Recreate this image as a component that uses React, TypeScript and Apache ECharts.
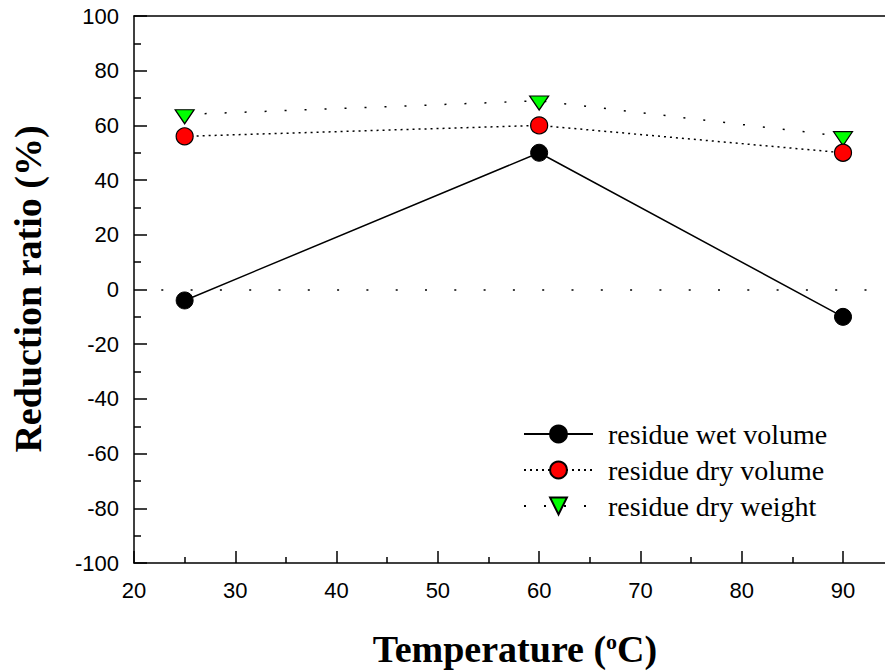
import React, { useEffect, useRef } from "react";
import * as echarts from "echarts";

const temperatures = [25, 60, 90];
const wetVolume = [-4, 50, -10];
const dryVolume = [56, 60, 50];
const dryWeight = [64, 69, 56];
const seriesNames = ["residue wet volume", "residue dry volume", "residue dry weight"];
const xTitle = "Temperature (";
const yTitle = "Reduction ratio (%)";

const SANS = "Arial, 'Liberation Sans', sans-serif";
const SERIF = "'Times New Roman', 'Liberation Serif', serif";

function pairs(values: number[]) {
  return temperatures.map((t, i) => [t, values[i]]);
}

export default function App() {
  const ref = useRef<HTMLDivElement>(null);
  useEffect(() => {
    if (!ref.current) return;
    const chart = echarts.init(ref.current, null, { renderer: "svg" });
    const axisLineStyle = { color: "#000", width: 1.5 };
    const option: any = {
      animation: false,
      backgroundColor: "#ffffff",
      grid: { left: 134, top: 16, bottom: 108, right: -59.3, containLabel: false, outerBoundsMode: "none" },
      xAxis: [
        {
          type: "value",
          min: 20,
          max: 100,
          interval: 10,
          axisLine: { show: true, onZero: false, lineStyle: axisLineStyle },
          axisTick: { show: true, inside: true, length: 12, lineStyle: axisLineStyle },
          minorTick: { show: true, splitNumber: 2, length: 6, lineStyle: axisLineStyle },
          splitLine: { show: false },
          minorSplitLine: { show: false },
          axisLabel: {
            fontFamily: SANS,
            fontSize: 22,
            color: "#000",
            margin: 16,
            showMaxLabel: false,
            formatter: (v: number) => (v > 90 ? "" : String(v)),
          },
        },
        {
          type: "value",
          position: "top",
          min: 20,
          max: 100,
          interval: 10,
          axisLine: { show: true, onZero: false, lineStyle: axisLineStyle },
          axisTick: { show: false },
          axisLabel: { show: false },
          splitLine: { show: false },
        },
      ],
      yAxis: {
        type: "value",
        min: -100,
        max: 100,
        interval: 20,
        axisLine: { show: true, onZero: false, lineStyle: axisLineStyle },
        axisTick: { show: true, inside: true, length: 13, lineStyle: axisLineStyle },
        minorTick: { show: true, splitNumber: 2, length: 7, lineStyle: axisLineStyle },
        splitLine: { show: false },
        minorSplitLine: { show: false },
        axisLabel: { fontFamily: SANS, fontSize: 22, color: "#000", margin: 15 },
      },
      legend: {
        orient: "vertical",
        left: 523,
        top: 420,
        padding: 0,
        itemWidth: 69,
        itemHeight: 21,
        itemGap: 8,
        selectedMode: false,
        data: seriesNames,
        textStyle: { fontFamily: SERIF, fontSize: 28, color: "#000", padding: [0, 0, 0, 10] },
      },
      graphic: [
        {
          type: "text",
          x: 515,
          y: 649,
          style: {
            text: "{a|" + xTitle + "}{b|o}{a|C)}",
            textAlign: "center",
            textVerticalAlign: "middle",
            rich: {
              a: { fontFamily: SERIF, fontSize: 38, fontWeight: "bold", fill: "#000", color: "#000" },
              b: { fontFamily: SERIF, fontSize: 22, fontWeight: "bold", fill: "#000", color: "#000", verticalAlign: "top" },
            },
          },
        },
        {
          type: "text",
          x: 28,
          y: 289,
          rotation: Math.PI / 2,
          style: {
            text: yTitle,
            font: "bold 38px " + SERIF,
            fill: "#000",
            textAlign: "center",
            textVerticalAlign: "middle",
          },
        },
      ],
      series: [
        {
          name: seriesNames[0],
          type: "line",
          data: pairs(wetVolume),
          symbol: "circle",
          symbolSize: 17,
          itemStyle: { color: "#000", borderColor: "#000", borderWidth: 1 },
          lineStyle: { color: "#000", width: 1.5, type: "solid" },
          z: 4,
          markLine: {
            silent: true,
            symbol: ["none", "none"],
            label: { show: false },
            lineStyle: { color: "#000", width: 1.5, type: [2, 27.3], dashOffset: 2 },
            data: [{ yAxis: 0 }],
          },
        },
        {
          name: seriesNames[1],
          type: "line",
          data: pairs(dryVolume),
          symbol: "circle",
          symbolSize: 17,
          itemStyle: { color: "#ff0000", borderColor: "#000", borderWidth: 1.2 },
          lineStyle: { color: "#000", width: 1.5, type: [2, 4] },
          z: 3,
        },
        {
          name: seriesNames[2],
          type: "line",
          data: pairs(dryWeight),
          symbol: "triangle",
          symbolSize: [19, 14],
          symbolRotate: 180,
          symbolOffset: [0, 2.3],
          itemStyle: { color: "#00ff00", borderColor: "#000", borderWidth: 1.2 },
          lineStyle: { color: "#000", width: 1.5, type: [2, 18] },
          z: 2,
        },
      ],
    };
    chart.setOption(option);
    return () => chart.dispose();
  }, []);
  return (
    <div
      ref={ref}
      style={{ position: "fixed", left: 0, top: 0, width: 885, height: 671, background: "#fff" }}
    />
  );
}
